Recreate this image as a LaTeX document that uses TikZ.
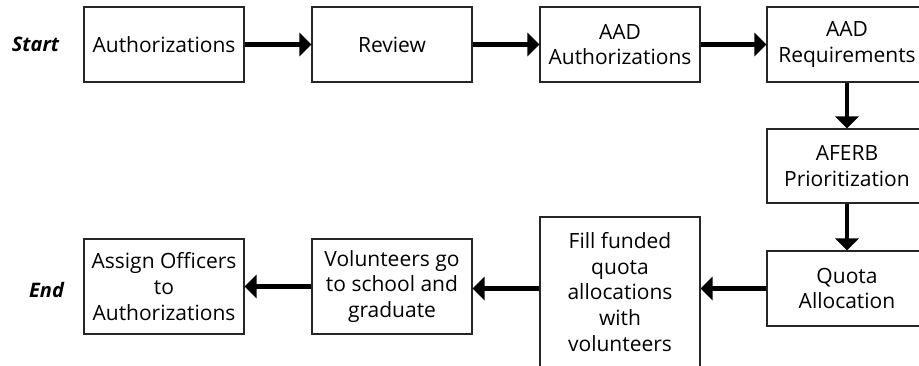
\documentclass[tikz,border=0pt]{standalone}
\usepackage{fontspec}
\setmainfont{Open Sans}
\usetikzlibrary{arrows.meta}
\begin{document}
\begin{tikzpicture}[x=1pt,y=-1pt,
  stepbox/.style={draw=black!85,line width=1.1pt,minimum width=160pt,minimum height=75pt,
    align=center,inner sep=2pt,font=\fontsize{21}{25.7}\selectfont},
  flow/.style={line width=4.5pt,-{Triangle[width=23pt,length=12pt]}},
  side/.style={font=\fontsize{20}{24}\selectfont\bfseries\itshape}]
\useasboundingbox (0,0) rectangle (919,366);
\node[stepbox] (b1) at (164,44.5) {Authorizations};
\node[stepbox] (b2) at (392,44.5) {Review};
\node[stepbox] (b3) at (620,44.5) {AAD\\Authorizations};
\node[stepbox] (b4) at (847,44.5) {AAD\\Requirements};
\node[stepbox,minimum height=74pt] (b5) at (847,166) {AFERB\\Prioritization};
\node[stepbox] (b6) at (847,288.5) {Quota\\Allocation};
\node[stepbox,minimum height=150pt] (b7) at (620,292) {Fill funded\\quota\\allocations\\with\\volunteers};
\node[stepbox,minimum height=95pt] (b8) at (392,286.5) {Volunteers go\\to school and\\graduate};
\node[stepbox,minimum height=95pt] (b9) at (164,286.5) {Assign Officers\\to\\Authorizations};
\node[side] (start) at (35.5,44) {Start};
\node[side] (end) at (46.5,290) {End};
\draw[flow] (b1) -- (b2);
\draw[flow] (b2) -- (b3);
\draw[flow] (b3) -- (b4);
\draw[flow] (b4) -- (b5);
\draw[flow] (b5) -- (b6);
\draw[flow] (b6.west) -- (b6.west -| b7.east);
\draw[flow] (b6.west -| b7.west) -- (b6.west -| b8.east);
\draw[flow] (b8) -- (b9);
\end{tikzpicture}
\end{document}
